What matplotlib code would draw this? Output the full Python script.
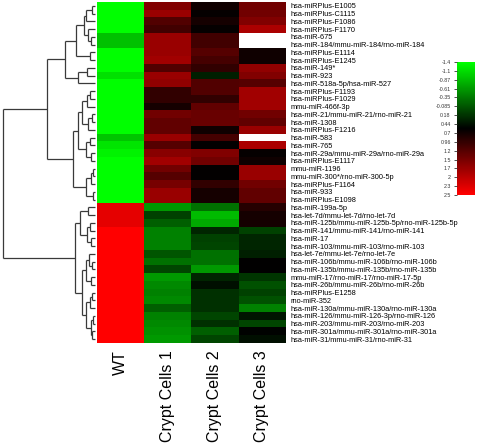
import numpy as np
import matplotlib.pyplot as plt
from matplotlib.colors import LinearSegmentedColormap

plt.rcParams['font.family'] = ['Liberation Sans', 'DejaVu Sans']

# row labels, top to bottom
mirnas = [
    'hsa-miRPlus-E1005', 'hsa-miRPlus-C1115', 'hsa-miRPlus-F1086', 'hsa-miRPlus-F1170',
    'hsa-miR-675', 'hsa-miR-184/mmu-miR-184/rno-miR-184', 'hsa-miRPlus-E1114',
    'hsa-miRPlus-E1245', 'hsa-miR-149*', 'hsa-miR-923', 'hsa-miR-518a-5p/hsa-miR-527',
    'hsa-miRPlus-F1193', 'hsa-miRPlus-F1029', 'mmu-miR-466f-3p',
    'hsa-miR-21/mmu-miR-21/rno-miR-21', 'hsa-miR-1308', 'hsa-miRPlus-F1216',
    'hsa-miR-583', 'hsa-miR-765', 'hsa-miR-29a/mmu-miR-29a/rno-miR-29a',
    'hsa-miRPlus-E1117', 'mmu-miR-1196', 'mmu-miR-300*/rno-miR-300-5p',
    'hsa-miRPlus-F1164', 'hsa-miR-933', 'hsa-miRPlus-E1098', 'hsa-miR-199a-5p',
    'hsa-let-7d/mmu-let-7d/rno-let-7d', 'hsa-miR-125b/mmu-miR-125b-5p/rno-miR-125b-5p',
    'hsa-miR-141/mmu-miR-141/rno-miR-141', 'hsa-miR-17',
    'hsa-miR-103/mmu-miR-103/rno-miR-103', 'hsa-let-7e/mmu-let-7e/rno-let-7e',
    'hsa-miR-106b/mmu-miR-106b/rno-miR-106b', 'hsa-miR-135b/mmu-miR-135b/rno-miR-135b',
    'mmu-miR-17/rno-miR-17/rno-miR-17-5p', 'hsa-miR-26b/mmu-miR-26b/rno-miR-26b',
    'hsa-miRPlus-E1258', 'rno-miR-352', 'hsa-miR-130a/mmu-miR-130a/rno-miR-130a',
    'hsa-miR-126/mmu-miR-126-3p/rno-miR-126', 'hsa-miR-203/mmu-miR-203/rno-miR-203',
    'hsa-miR-301a/mmu-miR-301a/rno-miR-301a', 'hsa-miR-31/mmu-miR-31/rno-miR-31',
]
samples = ['WT', 'Crypt Cells 1', 'Crypt Cells 2', 'Crypt Cells 3']

nan = np.nan
wt = [-1.4, -1.4, -1.4, -1.4, -0.92, -0.92, -1.4, -1.4, -1.4, -1.17, -1.4,
      -1.4, -1.4, -1.4, -1.4, -1.4, -1.4, -0.95, -1.2, -1.3, -1.4, -1.4,
      -1.4, -1.4, -1.4, -1.4, 2.3, 2.3, 2.3, 2.5, 2.5, 2.5, 2.5, 2.5,
      2.5, 2.5, 2.5, 2.5, 2.5, 2.5, 2.5, 2.5, 2.5, 2.5]
crypt1 = [1.53, 1.72, 1.16, 1.04, 1.72, 1.72, 1.72, 1.77, 1.16, 1.72, 1.65,
          0.92, 0.92, 0.71, 1.41, 1.29, 1.29, 1.72, 1.20, 1.59, 1.77, 1.41,
          1.20, 1.45, 1.72, 1.72, -0.62, 0.06, -0.18, -0.43, -0.43, -0.43, -0.10, -0.31,
          0.02, -0.62, -0.49, -0.43, -0.49, -0.18, -0.43, -0.49, -0.55, -0.62]
crypt2 = [0.67, 0.59, 0.71, 0.59, 1.04, 1.04, 1.20, 1.08, 0.92, 0.31, 1.16,
          1.16, 0.92, 1.29, 1.35, 1.35, 0.67, 1.08, 0.57, 1.53, 1.41, 0.57,
          0.57, 0.92, 0.71, 0.71, -0.31, -0.88, -0.73, 0.27, 0.06, 0.02, -0.31, -0.31,
          -0.62, 0.27, 0.43, 0.18, 0.18, 0.18, 0.02, 0.18, -0.18, 0.02]
crypt3 = [1.41, 1.41, 1.53, 1.85, nan, nan, 0.67, 0.67, 1.65, 1.53, 1.20,
          1.77, 1.77, 1.77, 1.41, 1.29, 1.72, nan, 1.85, 0.59, 0.67, 1.72,
          1.72, 1.41, 1.29, 1.29, 0.83, 0.71, 0.71, 0.06, 0.27, 0.27, 0.31, 0.55,
          0.55, 0.14, -0.06, 0.06, -0.06, -0.43, 0.39, 0.02, 0.53, 0.43]

cbar_ticks = ['-1.4', '-1.1', '-0.87', '-0.61', '-0.35', '-0.085', '0.18', '0.44',
              '0.7', '0.96', '1.2', '1.5', '1.7', '2', '2.3', '2.5']

# row clustering: [left, right, merge height], leaves are row numbers
row_tree = [
    [[[[[[0, 1, 3], 2, 9], [3, [4, 5, 4], 7], 11], [6, 7, 5], 19],
       [[8, 9, 8], 10, 17], 31],
      [[[[[11, 12, 5], 13, 8], [[14, 15, 3], 16, 7], 13],
        [[17, 18, 5], [19, 20, 4], 9], 17],
       [[[21, 22, 2], 23, 4], [24, 25, 2], 9], 22], 49],
    [[[26, 27, 7], [[28, 29, 5], [30, 31, 4], 8], 15],
     [[[32, [33, 34, 3], 6], [35, 36, 4], 9],
      [[[37, 38, 3], 39, 5], [[40, 41, 2], [42, 43, 3], 4], 9], 13], 20],
    94]

vmin, vmax = -1.4, 2.5
cmap = LinearSegmentedColormap.from_list('gkr', ['#00ff00', '#000000', '#ff0000'])
cmap.set_bad('white')

W, H = 478, 443


def box(l, t, r, b):
    return [l / W, 1 - b / H, (r - l) / W, (b - t) / H]


fig = plt.figure(figsize=(W / 100, H / 100), dpi=100)

# heatmap
ax = fig.add_axes(box(97, 2, 285, 343))
mat = np.ma.masked_invalid(np.array([wt, crypt1, crypt2, crypt3]).T)
n = len(mirnas)
im = ax.imshow(mat, cmap=cmap, vmin=vmin, vmax=vmax, aspect='auto',
               interpolation='nearest', extent=(0, 4, n, 0))
ax.set_xticks(np.arange(4) + 0.5, samples, rotation=90, fontsize=11.5)
ax.set_yticks(np.arange(n) + 0.5, mirnas, fontsize=5.3)
ax.yaxis.tick_right()
ax.tick_params(axis='x', length=0, pad=5)
ax.tick_params(axis='y', length=0, pad=4)
for s in ax.spines.values():
    s.set_visible(False)

# dendrogram
axd = fig.add_axes(box(0, 2, 96, 343))
axd.set_ylim(n, 0)
axd.set_xlim(96.75, -1.02)
axd.axis('off')


def draw(node):
    if isinstance(node, int):
        return node + 0.5, 0
    ya, ha = draw(node[0])
    yb, hb = draw(node[1])
    h = node[2]
    kw = dict(color='#3a3a3a', lw=0.9, solid_capstyle='butt')
    axd.plot([ha, h], [ya, ya], **kw)
    axd.plot([hb, h], [yb, yb], **kw)
    axd.plot([h, h], [ya, yb], **kw)
    return (ya + yb) / 2, h


draw(row_tree)

# colour key
cax = fig.add_axes(box(457, 62, 475, 195))
cb = fig.colorbar(im, cax=cax)
cb.outline.set_visible(False)
cb.ax.invert_yaxis()
cb.ax.yaxis.set_ticks_position('left')
cb.set_ticks(np.linspace(vmin, vmax, len(cbar_ticks)), labels=cbar_ticks)
cb.ax.tick_params(labelsize=3.8, length=2.5, width=0.6, pad=2, colors='#333333')

fig.savefig('out.png', dpi=100)
